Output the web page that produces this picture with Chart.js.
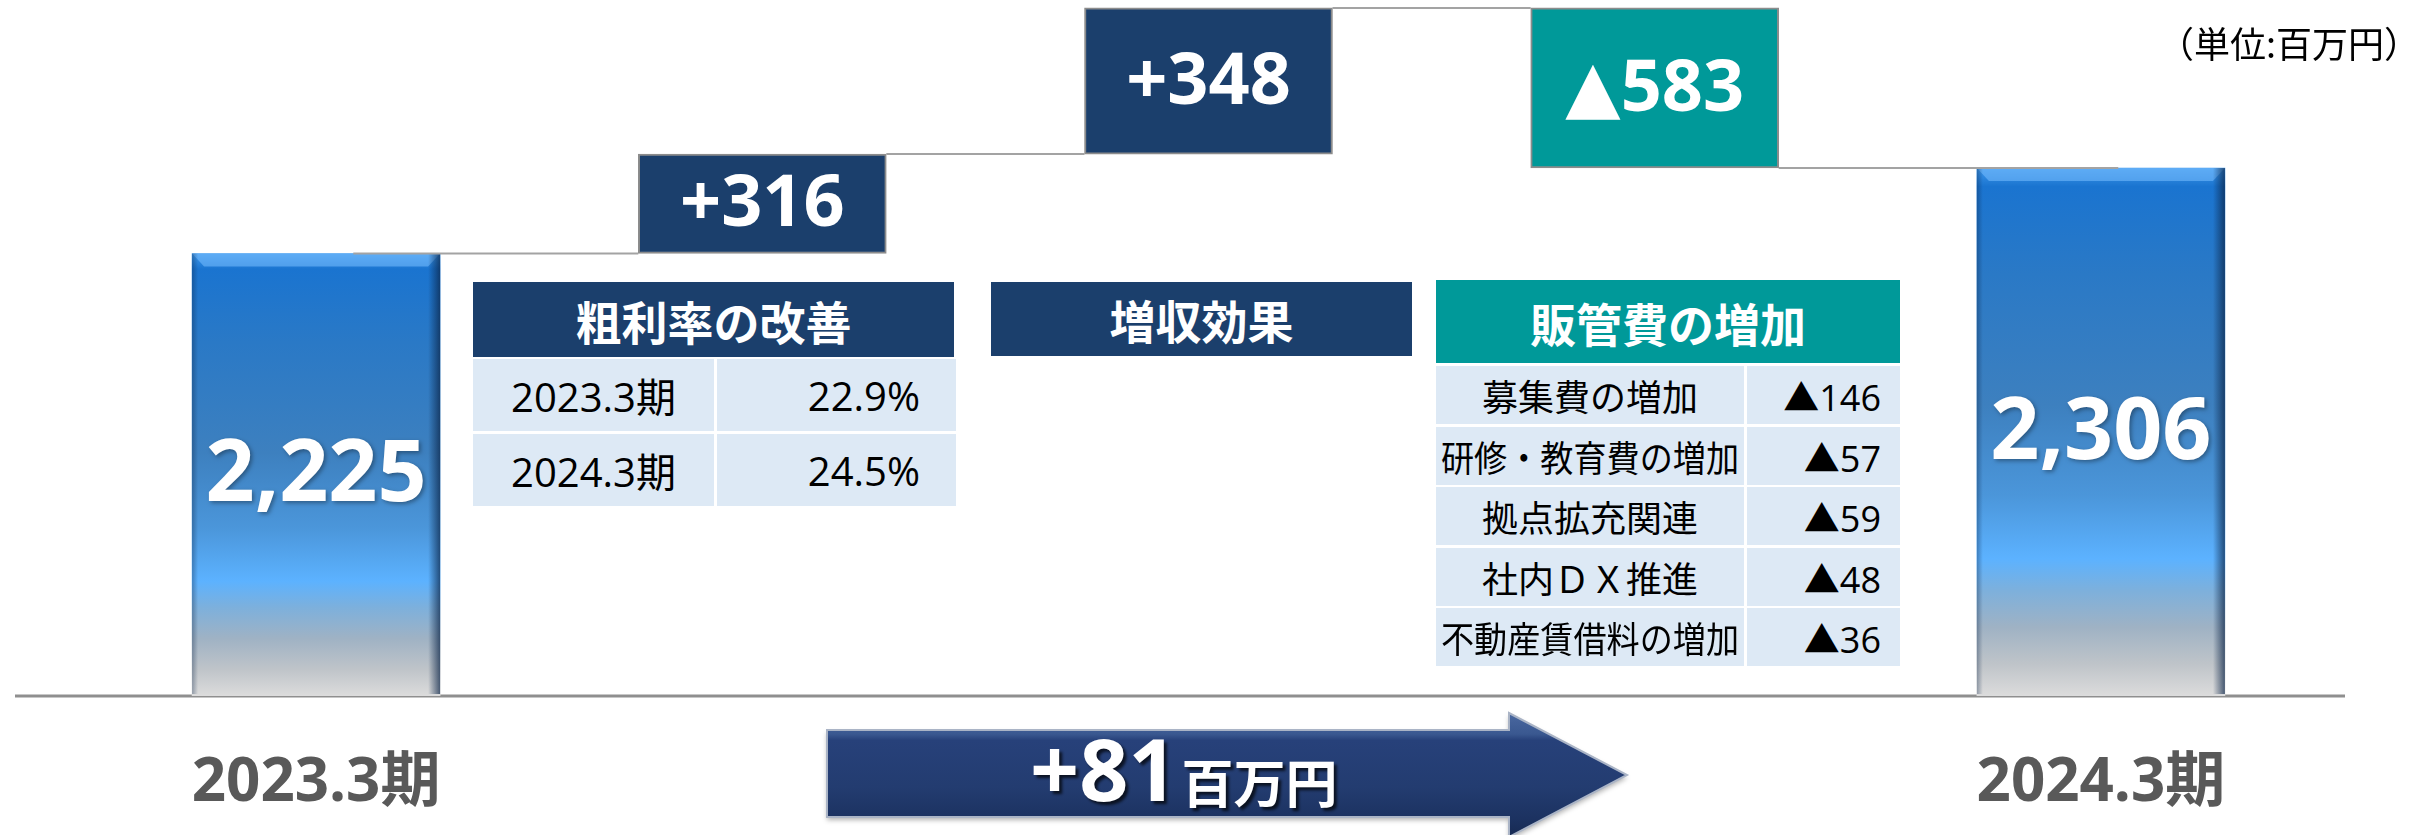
<!DOCTYPE html>
<html lang="ja">
<head>
<meta charset="utf-8">
<script src="https://cdn.jsdelivr.net/npm/chart.js@4.4.1/dist/chart.umd.min.js"></script>
<style>
  html, body { margin: 0; padding: 0; background: #fff; }
  #wrap { position: relative; width: 2425px; height: 835px; overflow: hidden; }
  #chart { position: absolute; left: 0; top: 0; }
  .unit { position: absolute; left: 2158px; top: 16px; font: 36px "Noto Sans CJK JP", sans-serif; color: #000; }
  .cell { position: absolute; display: flex; align-items: center; justify-content: center;
          box-sizing: border-box; white-space: nowrap; font-family: "Open Sans", "Noto Sans CJK JP", sans-serif; }
  .cell span { display: inline-block; flex: none; }
  .head { color: #fff; font-weight: bold; font-size: 46px; font-family: "Noto Sans CJK JP", sans-serif; }
  .navy { background: #1b3f6c; }
  .teal { background: #009999; }
  .body { background: #dde9f5; color: #000; }
  .num { justify-content: flex-end; }
</style>
</head>
<body>
<div id="wrap">
  <canvas id="chart" width="2425" height="835"></canvas>
  <div class="unit">（単位:百万円）</div>
</div>
<script>
// 営業利益の増減 (百万円)
const tickLabels = ['2023.3期', '', '', '', '2024.3期'];
const stepNames = ['2023.3期', '粗利率の改善', '増収効果', '販管費の増加', '2024.3期'];
const amounts = [2225, 316, 348, -583, 2306];
// the picture is a schematic, not to scale: bar ends read off against the 2,225 bar
const stepLow = [0, 2225, 2725, 2655, 0];
const stepHigh = [2225, 2725, 3460, 3460, 2655];
const netChange = 81;

// 粗利率
const marginYears = ['2023.3期', '2024.3期'];
const marginRates = ['22.9%', '24.5%'];
// 販管費の内訳
const sgaItems = ['募集費の増加', '研修・教育費の増加', '拠点拡充関連', '社内ＤＸ推進', '不動産賃借料の増加'];
const sgaAmounts = [-146, -57, -59, -48, -36];

const wrap = document.getElementById('wrap');

function fmtStep(i) {
  const v = amounts[i];
  if (i === 0 || i === amounts.length - 1) return v.toLocaleString('en-US');
  return v < 0 ? '▲' + Math.abs(v) : '+' + v;
}

function barFill(ctx) {
  const i = ctx.dataIndex;
  if (amounts[i] < 0 && i !== 0 && i !== amounts.length - 1) return '#009999';
  if (i !== 0 && i !== amounts.length - 1) return '#1b3f6c';
  const chart = ctx.chart;
  const y = chart.scales.y;
  if (!y || !chart.chartArea) return '#2a79c6';
  const top = y.getPixelForValue(stepHigh[i]);
  const bot = y.getPixelForValue(stepLow[i]);
  const g = chart.ctx.createLinearGradient(0, top, 0, bot);
  g.addColorStop(0, '#3d97ea');
  g.addColorStop(0.035, '#1a74d0');
  g.addColorStop(0.2, '#2a79c6');
  g.addColorStop(0.45, '#3d80bf');
  g.addColorStop(0.62, '#4b96da');
  g.addColorStop(0.74, '#5cb2ff');
  g.addColorStop(0.8, '#7db0dc');
  g.addColorStop(0.87, '#9fb2c4');
  g.addColorStop(0.94, '#bfc4c9');
  g.addColorStop(1, '#dcdcdc');
  return g;
}

const deco = {
  id: 'deco',
  beforeDatasetsDraw(chart) {
    const { ctx, scales: { y } } = chart;
    const base = y.getPixelForValue(0);
    ctx.save();
    ctx.strokeStyle = '#8f8f8f';
    ctx.lineWidth = 3;
    ctx.beginPath();
    ctx.moveTo(15, base);
    ctx.lineTo(2345, base);
    ctx.stroke();
    ctx.restore();
  },
  afterDatasetsDraw(chart) {
    const { ctx, scales: { y } } = chart;
    const bars = chart.getDatasetMeta(0).data;
    ctx.save();

    // bevel and shade on the two totals
    [0, bars.length - 1].forEach(i => {
      const b = bars[i];
      const l = b.x - b.width / 2, r = b.x + b.width / 2, t = b.y, bt = b.base;
      ctx.fillStyle = 'rgba(120,190,255,0.55)';
      ctx.beginPath();
      ctx.moveTo(l, t); ctx.lineTo(r, t); ctx.lineTo(r - 12, t + 13); ctx.lineTo(l + 12, t + 13);
      ctx.closePath(); ctx.fill();
      const g = ctx.createLinearGradient(r - 12, 0, r, 0);
      g.addColorStop(0, 'rgba(10,35,70,0)');
      g.addColorStop(1, 'rgba(10,35,70,0.7)');
      ctx.fillStyle = g;
      ctx.fillRect(r - 12, t, 12, bt - t - 2);
      const g2 = ctx.createLinearGradient(l, 0, l + 6, 0);
      g2.addColorStop(0, 'rgba(10,35,70,0.35)');
      g2.addColorStop(1, 'rgba(10,35,70,0)');
      ctx.fillStyle = g2;
      ctx.fillRect(l, t, 6, bt - t - 2);
    });

    // connectors
    ctx.strokeStyle = '#a3a3a3';
    ctx.lineWidth = 2;
    for (let i = 0; i < bars.length - 1; i++) {
      const lvl = amounts[i] < 0 ? stepLow[i] : stepHigh[i];
      const py = y.getPixelForValue(lvl);
      const a = bars[i], b = bars[i + 1];
      ctx.beginPath();
      ctx.moveTo(a.x + (i === 0 ? 0.15 * a.width : a.width / 2), py);
      ctx.lineTo(b.x - (i + 1 === bars.length - 1 ? -0.07 * b.width : b.width / 2), py);
      ctx.stroke();
    }

    // values
    ctx.fillStyle = '#fff';
    ctx.textAlign = 'center';
    ctx.textBaseline = 'middle';
    bars.forEach((b, i) => {
      const big = i === 0 || i === bars.length - 1;
      ctx.font = big ? 'bold 86px "Open Sans", "DejaVu Sans", sans-serif'
                     : 'bold 72px "Open Sans", "DejaVu Sans", sans-serif';
      ctx.shadowColor = big ? 'rgba(0,0,0,0.35)' : 'rgba(0,0,0,0)';
      ctx.shadowBlur = big ? 4 : 0;
      ctx.shadowOffsetX = big ? 2 : 0;
      ctx.shadowOffsetY = big ? 2 : 0;
      ctx.fillText(fmtStep(i), b.x, (b.y + b.base) / 2 + 2);
    });
    ctx.restore();
  },
  afterDraw(chart) {
    const ctx = chart.ctx;
    // net change arrow
    const x0 = 827, x1 = 1509, x2 = 1627, yt = 730, yb = 817, ht = 713, hb = 837, ym = 775;
    ctx.save();
    ctx.beginPath();
    ctx.moveTo(x0, yt); ctx.lineTo(x1, yt); ctx.lineTo(x1, ht); ctx.lineTo(x2, ym);
    ctx.lineTo(x1, hb); ctx.lineTo(x1, yb); ctx.lineTo(x0, yb); ctx.closePath();
    const g = ctx.createLinearGradient(0, ht, 0, hb);
    g.addColorStop(0, '#4a68a0');
    g.addColorStop(0.17, '#3a5890');
    g.addColorStop(0.22, '#27417a');
    g.addColorStop(0.6, '#233c70');
    g.addColorStop(0.85, '#1c3261');
    g.addColorStop(1, '#172a52');
    ctx.fillStyle = g;
    ctx.shadowColor = 'rgba(0,0,0,0.3)';
    ctx.shadowBlur = 5;
    ctx.shadowOffsetY = 3;
    ctx.fill();
    ctx.shadowColor = 'rgba(0,0,0,0)';
    ctx.strokeStyle = '#aab4c6';
    ctx.lineWidth = 2;
    ctx.stroke();

    ctx.fillStyle = '#fff';
    ctx.textBaseline = 'alphabetic';
    ctx.textAlign = 'left';
    ctx.shadowColor = 'rgba(0,0,0,0.7)';
    ctx.shadowBlur = 3;
    ctx.shadowOffsetX = 3;
    ctx.shadowOffsetY = 3;
    ctx.font = 'bold 86px "Open Sans", "Noto Sans CJK JP", sans-serif';
    const main = '+' + netChange;
    ctx.fillText(main, 1030, 801);
    const w = ctx.measureText(main).width;
    ctx.font = 'bold 52px "Noto Sans CJK JP", sans-serif';
    ctx.fillText('百万円', 1030 + w + 4, 803);
    ctx.restore();
  }
};

new Chart(document.getElementById('chart'), {
  type: 'bar',
  data: {
    labels: tickLabels,
    datasets: [{
      label: '営業利益',
      data: stepLow.map((lo, i) => [lo, stepHigh[i]]),
      backgroundColor: barFill,
      borderColor: '#8c8c8c',
      borderWidth: ctx => (ctx.dataIndex === 0 || ctx.dataIndex === amounts.length - 1) ? 0 : 2,
      borderSkipped: false,
      barThickness: 248
    }]
  },
  options: {
    responsive: false,
    animation: false,
    devicePixelRatio: 1,
    layout: { padding: { left: 93, right: 101, top: 0, bottom: 0 } },
    plugins: { legend: { display: false }, tooltip: { enabled: false } },
    scales: {
      x: {
        grid: { display: false, drawTicks: false },
        border: { display: false },
        ticks: {
          color: '#595959',
          font: { family: '"Open Sans", "Noto Sans CJK JP", sans-serif', size: 60, weight: 'bold' },
          padding: 52,
          maxRotation: 0,
          autoSkip: false
        },
        afterFit: scale => { scale.height = 139; }
      },
      y: { display: false, min: 0, max: 3500 }
    }
  },
  plugins: [deco]
});

// tables
function addCell(left, top, w, h, text, cls, fontSize, padRight) {
  const d = document.createElement('div');
  d.className = 'cell ' + cls;
  d.style.left = left + 'px';
  d.style.top = top + 'px';
  d.style.width = w + 'px';
  d.style.height = h + 'px';
  if (fontSize) d.style.fontSize = fontSize + 'px';
  if (padRight) d.style.paddingRight = padRight + 'px';
  const s = document.createElement('span');
  s.textContent = text;
  d.appendChild(s);
  wrap.appendChild(d);
  const room = w - (padRight || 0) - 10;
  const sw = s.getBoundingClientRect().width;
  if (sw > room) s.style.transform = 'scaleX(' + (room / sw).toFixed(3) + ')';
  return d;
}

addCell(473, 282, 481, 75, stepNames[1], 'head navy');
marginYears.forEach((yr, i) => {
  const top = 359 + i * 75;
  addCell(473, top, 241, 72, yr, 'body', 40);
  addCell(717, top, 239, 72, marginRates[i], 'body num', 40, 36);
});

addCell(991, 282, 421, 74, stepNames[2], 'head navy');

addCell(1436, 280, 464, 83, stepNames[3], 'head teal');
sgaItems.forEach((item, i) => {
  const top = 366 + Math.round(i * 60.5);
  addCell(1436, top, 308, 58, item, 'body', 36);
  addCell(1747, top, 153, 58, '▲' + Math.abs(sgaAmounts[i]), 'body num', 36, 19);
});
</script>
</body>
</html>
